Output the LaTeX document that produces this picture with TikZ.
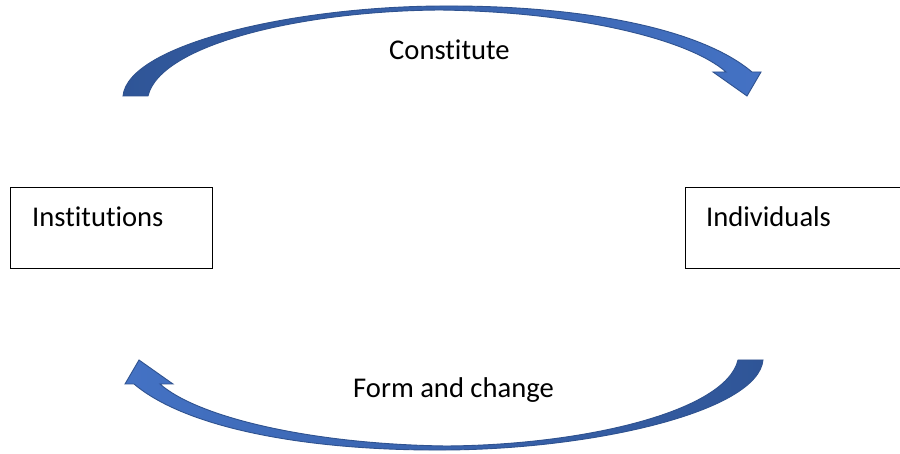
\documentclass[tikz,border=0pt]{standalone}
\usepackage{fontspec}
\setmainfont{Carlito}[Ligatures=NoCommon]
\definecolor{arrowdark}{HTML}{2F5597}
\definecolor{arrowlight}{HTML}{4472C4}
\definecolor{arrowedge}{HTML}{2F528F}
\tikzset{
  box/.style={draw=black, line width=1.4pt, inner sep=0pt, anchor=north west},
  lbl/.style={inner sep=0pt, anchor=base west, font=\fontsize{28.6}{34}\selectfont},
  bandarrow/.style={draw=arrowedge, line width=0.9pt, line join=miter}
}
\newcommand{\bandpath}{%
  (123,96) .. controls (128,45) and (290,7) .. (440,6)
  .. controls (580,5) and (700,28) .. (752,72)
  -- (761,72) -- (747,96) -- (713,72) -- (726,72)
  .. controls (690,40) and (580,12) .. (440,10)
  .. controls (300,11) and (160,45) .. (148,96) -- cycle}
\begin{document}
\begin{tikzpicture}[x=1pt,y=-1pt]
\useasboundingbox (0,0) rectangle (900,454);
\fill[white] (0,0) rectangle (900,454);
% boxes
\node[box, minimum width=202pt, minimum height=81pt] (inst) at (10,187) {};
\node[box, minimum width=225pt, minimum height=81pt] (indiv) at (684.5,187) {};
\node[lbl] (instlbl) at (32,227) {Institutions};
\node[lbl] (indivlbl) at (706,227) {Individuals};
% arrow labels
\node[lbl] (constlbl) at (389,60) {Constitute};
\node[lbl] (formlbl) at (353,397) {Form and change};
% top curved arrow (Institutions -> Individuals)
\path[bandarrow, left color=arrowdark, right color=arrowlight] \bandpath;
% bottom curved arrow (Individuals -> Institutions)
\begin{scope}[rotate around={180:(443,228)}]
\path[bandarrow, left color=arrowlight, right color=arrowdark] \bandpath;
\end{scope}
\end{tikzpicture}
\end{document}
